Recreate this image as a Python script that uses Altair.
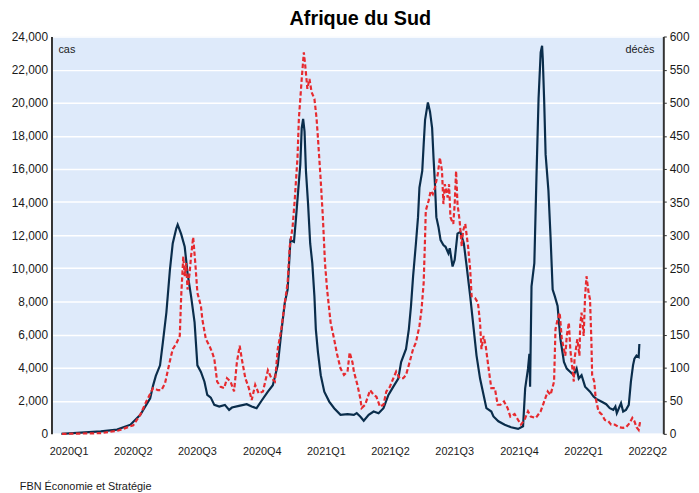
import altair as alt
import pandas as pd

# ---------------- texts ----------------
title_text = "Afrique du Sud"
source_text = "FBN Économie et Stratégie"
left_unit = "cas"
right_unit = "décès"

# ---------------- x axis: quarters ----------------
quarter_labels = ["2020Q1", "2020Q2", "2020Q3", "2020Q4", "2021Q1",
                  "2021Q2", "2021Q3", "2021Q4", "2022Q1", "2022Q2"]
quarter_mid = ["2020-02-15", "2020-05-16", "2020-08-15", "2020-11-15", "2021-02-14",
               "2021-05-16", "2021-08-15", "2021-11-15", "2022-02-14", "2022-05-16"]
quarter_starts = [(2020, 4), (2020, 7), (2020, 10), (2021, 1), (2021, 4),
                  (2021, 7), (2021, 10), (2022, 1), (2022, 4)]

# ---------------- series (day = days since 2020-01-01) ----------------
cases_day = [34, 90, 113, 132, 146, 160, 164, 168, 174, 178, 183, 188, 192, 197, 199,
             204, 209, 213, 218, 223, 227, 232, 237, 241, 246, 251, 258, 266, 272, 276,
             286, 297, 304, 311, 318, 327, 334, 341, 346, 351, 355, 359, 364, 367, 370,
             373, 375, 377, 379, 381, 384, 387, 390, 393, 395, 398, 402, 407, 414, 421,
             430, 440, 449, 453, 458, 463, 470, 477, 484, 491, 498, 505, 512, 516, 523,
             527, 530, 533, 537, 540, 542, 546, 548, 550, 554, 557, 560, 562, 564, 566,
             569, 572, 576, 579, 583, 585, 589, 592, 596, 600, 605, 609, 614, 619, 623,
             628, 633, 637, 644, 647, 654, 663, 672, 682, 689, 692, 696, 698, 699, 701,
             705, 708, 711, 714, 716, 717, 719, 721, 725, 728, 731, 734, 738, 742, 747,
             751, 756, 761, 765, 768, 772, 777, 784, 789, 793, 800, 807, 812, 817, 820,
             822, 826, 828, 831, 835, 839, 842, 845, 847, 850, 853, 854]
cases_value = [0, 150, 260, 555, 1150, 2150, 2900, 3500, 4140, 5530, 7330, 9910, 11500, 12400, 12640,
               12060, 11300, 9710, 8320, 6730, 4140, 3740, 3150, 2350, 2190, 1750, 1650, 1750, 1450, 1590,
               1690, 1790, 1650, 1550, 2000, 2550, 2940, 4140, 6130, 7920, 8720, 11700, 11600, 13090, 14690,
               16280, 18470, 19030, 18270, 15880, 13890, 11500, 10310, 8320, 6330, 4940, 3540, 2550, 1950, 1550,
               1150, 1190, 1150, 1250, 1050, 795, 1150, 1350, 1250, 1550, 2350, 2850, 3340, 4340, 5130,
               6330, 7720, 9510, 11500, 13090, 14880, 15880, 17470, 18970, 20020, 19460, 18470, 16670, 15090, 13090,
               12500, 11700, 11400, 11300, 10910, 11210, 10110, 10510, 12100, 12200, 11500, 10110, 8320, 6330, 4730,
               3340, 2350, 1550, 1350, 1050, 760, 555, 400, 300, 460, 2750, 3940, 4840, 2850, 8910,
               10310, 15480, 20260, 23040, 23440, 22640, 20060, 16880, 14690, 11900, 8720, 8320, 7720, 5730, 4340,
               3940, 3740, 3540, 3940, 3340, 3540, 2850, 2550, 2250, 2110, 1950, 1790, 1550, 1450, 1650,
               1250, 1650, 1850, 1350, 1450, 1750, 3150, 4140, 4540, 4730, 4640, 5430]

deaths_day = [35, 90, 115, 136, 146, 155, 164, 171, 176, 181, 188, 192, 197, 202, 204,
              207, 209, 211, 213, 216, 218, 221, 224, 227, 232, 234, 239, 244, 248, 251,
              255, 260, 265, 269, 274, 279, 283, 287, 290, 295, 300, 304, 309, 314, 320,
              327, 332, 337, 341, 346, 351, 355, 358, 362, 365, 369, 371, 373, 375, 378,
              380, 383, 386, 389, 393, 396, 398, 402, 405, 408, 411, 416, 421, 425, 430,
              435, 440, 443, 447, 449, 454, 458, 460, 465, 472, 477, 481, 486, 491, 495,
              500, 505, 509, 514, 519, 523, 528, 533, 537, 542, 545, 548, 550, 551, 555,
              558, 561, 564, 568, 571, 574, 576, 578, 582, 584, 586, 590, 592, 594, 596,
              599, 602, 604, 607, 611, 614, 616, 621, 625, 628, 630, 633, 636, 639, 642,
              644, 649, 653, 657, 662, 667, 671, 677, 682, 686, 691, 696, 700, 707, 714,
              719, 724, 728, 733, 735, 738, 741, 744, 747, 749, 751, 754, 756, 758, 761,
              762, 764, 766, 769, 770, 772, 775, 776, 777, 779, 782, 784, 786, 787, 790,
              792, 796, 801, 805, 810, 814, 819, 825, 831, 835, 840, 844, 847, 850, 853,
              855]
deaths_value = [0, 1, 5, 13, 29, 50, 69, 66, 66, 76, 110, 128, 136, 148, 208,
                268, 238, 258, 218, 243, 268, 297, 258, 213, 193, 173, 143, 133, 123, 113,
                79, 71, 69, 84, 79, 64, 108, 133, 113, 84, 69, 51, 74, 61, 64,
                96, 84, 79, 128, 158, 198, 228, 283, 312, 352, 417, 477, 506, 536, 576,
                556, 521, 536, 516, 506, 477, 447, 382, 327, 258, 218, 168, 143, 121, 99,
                89, 94, 123, 108, 94, 74, 54, 39, 44, 66, 59, 56, 41, 44, 64,
                71, 84, 94, 84, 84, 89, 108, 128, 138, 163, 188, 228, 297, 337, 352,
                367, 362, 372, 392, 417, 397, 347, 377, 357, 377, 327, 317, 347, 397, 347,
                322, 283, 307, 317, 283, 248, 208, 205, 198, 168, 128, 148, 133, 108, 84,
                69, 69, 44, 44, 49, 39, 26, 30, 21, 14, 21, 34, 26, 24, 34,
                49, 64, 59, 79, 158, 173, 183, 143, 128, 118, 148, 168, 128, 108, 79,
                113, 128, 143, 118, 163, 183, 148, 178, 208, 238, 213, 203, 138, 89, 79,
                54, 34, 29, 21, 19, 14, 14, 10, 9, 10, 16, 24, 19, 10, 6,
                18]

# ---------------- tables ----------------
origin = pd.Timestamp("2020-01-01")


def to_dates(days):
    return [(origin + pd.Timedelta(days=int(d))).strftime("%Y-%m-%d") for d in days]


cases_df = pd.DataFrame({"date": to_dates(cases_day), "cases": cases_value})
deaths_df = pd.DataFrame({"date": to_dates(deaths_day), "deaths": deaths_value})
qlab_df = pd.DataFrame({"date": quarter_mid, "label": quarter_labels})

FONT = "Liberation Sans"
INK = "#1a1a1a"
AXIS = "#333333"
NAVY = "#0A2D4B"
RED = "#E62A2F"
BG = "#DEEAFA"
W, H = 619, 402

x_scale = alt.Scale(
    type="utc",
    domain=[alt.DateTime(year=2020, month=1, date=21, utc=True),
            alt.DateTime(year=2022, month=6, date=7, utc=True)],
)
x_axis = alt.Axis(
    values=[alt.DateTime(year=y, month=m, date=1, utc=True) for y, m in quarter_starts],
    labels=False, title=None, grid=True, gridColor="white", gridWidth=1.5,
    ticks=True, tickSize=6, tickColor=AXIS, tickWidth=1.5,
    domainColor=AXIS, domainWidth=2,
)

cases_line = alt.Chart(cases_df).mark_line(color=NAVY, strokeWidth=2.2).encode(
    x=alt.X("date:T", scale=x_scale, axis=x_axis),
    y=alt.Y(
        "cases:Q",
        scale=alt.Scale(domain=[0, 24000], nice=False),
        axis=alt.Axis(
            orient="left", values=list(range(0, 24001, 2000)), format=",.0f", title=None,
            grid=True, gridColor="white", gridWidth=1.5, ticks=False, tickSize=0,
            labelPadding=4, domainColor=AXIS, domainWidth=2,
        ),
    ),
)

deaths_line = alt.Chart(deaths_df).mark_line(color=RED, strokeWidth=2.2, strokeDash=[4.5, 2.5]).encode(
    x=alt.X("date:T", scale=x_scale, axis=x_axis),
    y=alt.Y(
        "deaths:Q",
        scale=alt.Scale(domain=[0, 600], nice=False),
        axis=alt.Axis(
            orient="right", values=list(range(0, 601, 50)), format=".0f", title=None, grid=False,
            ticks=True, tickSize=3, tickColor=AXIS, labelPadding=3,
            domainColor=AXIS, domainWidth=2,
        ),
    ),
)

quarter_text = alt.Chart(qlab_df).mark_text(
    font=FONT, fontSize=11, color=INK, align="center", baseline="alphabetic"
).encode(
    x=alt.X("date:T", scale=x_scale, axis=None),
    y=alt.value(H + 21),
    text="label:N",
)

cas_text = alt.Chart(pd.DataFrame({"t": [left_unit]})).mark_text(
    font=FONT, fontSize=11, color=INK, align="left", baseline="alphabetic"
).encode(x=alt.value(7), y=alt.value(17), text="t:N")

deces_text = alt.Chart(pd.DataFrame({"t": [right_unit]})).mark_text(
    font=FONT, fontSize=11, color=INK, align="right", baseline="alphabetic"
).encode(x=alt.value(W - 9), y=alt.value(17), text="t:N")

source = alt.Chart(pd.DataFrame({"t": [source_text]})).mark_text(
    font=FONT, fontSize=11, color=INK, align="left", baseline="alphabetic"
).encode(x=alt.value(-32), y=alt.value(H + 57), text="t:N")

chart = (
    alt.layer(cases_line, deaths_line, quarter_text, cas_text, deces_text, source)
    .resolve_scale(y="independent")
    .properties(
        width=W,
        height=H,
        padding={"left": 44, "top": 26, "right": 28, "bottom": 59},
        autosize=alt.AutoSizeParams(type="none"),
        title=alt.TitleParams(
            text=title_text, font=FONT, fontSize=20, fontWeight="bold", color="black",
            anchor="middle", frame="group", offset=1.5, dx=3,
        ),
    )
    .configure_view(fill=BG, stroke=None)
    .configure_axis(labelFont=FONT, labelFontSize=12, labelColor=INK)
)

chart.save("out.html", embed_options={"renderer": "svg", "actions": False})
